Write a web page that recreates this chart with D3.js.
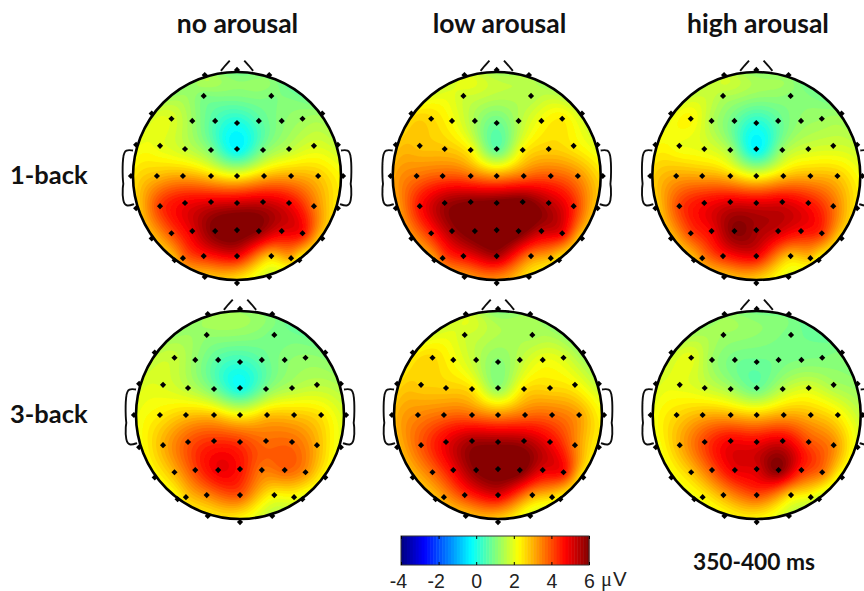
<!DOCTYPE html>
<meta charset="utf-8">
<style>
body { margin: 0; background: #fff; }
svg { display: block; }
.title { font-family: Lato, sans-serif; font-weight: bold; font-size: 26.5px; fill: #111; }
.title.row { font-size: 25.5px; }
.cbar text { font-family: "Liberation Sans", sans-serif; font-size: 19.5px; fill: #222; }
.cbar path.domain { display: none; }
</style>
<svg width="864" height="591">
  <defs><filter id="soft"><feGaussianBlur stdDeviation="0.45"></feGaussianBlur></filter></defs>
</svg>
<script src="https://d3js.org/d3.v7.min.js"></script>
<script>

var columns = ["no arousal", "low arousal", "high arousal"]
var rows = ["1-back", "3-back"]
var cbarTicks = [-4, -2, 0, 2, 4, 6]

// channel locations, head units (1 = head radius), inner rows then rim clockwise from top left
var chanX = [-.32, .33,
  -.63, -.43, -.21, 0, .21, .43, .63,
  -.74, -.5, -.25, 0, .25, .5, .74,
  -.77, -.52, -.25, 0, .26, .52, .78,
  -.74, -.5, -.25, 0, .25, .5, .74,
  -.63, -.43, -.21, 0, .21, .43, .63,
  -.52, -.32, 0, .33, .52,
  -.31, 0, .31, .82, .97, 1.02, .97, .82, .6, .31, 0, -.31, -.6, -.82, -.97, -1.02, -.97, -.82]
var chanY = [.77, .77,
  .55, .53, .53, .51, .53, .53, .55,
  .29, .26, .25, .26, .25, .26, .29,
  0, 0, 0, 0, 0, 0, 0,
  -.29, -.26, -.25, -.26, -.25, -.26, -.29,
  -.55, -.53, -.53, -.52, -.53, -.53, -.55,
  -.79, -.77, -.77, -.77, -.79,
  .97, 1.02, .97, .6, .3, 0, -.31, -.6, -.81, -.97, -1.03, -.97, -.81, -.6, -.31, 0, .3, .6]

// microvolts per channel
var noArousal1 = [1.0, 1.0,
  1.9, 1.3, 0.5, 0.0, 0.6, 1.1, 1.3,
  2.0, 1.7, 1.0, -0.3, 1.0, 1.6, 1.9,
  2.9, 3.1, 2.7, 2.3, 2.9, 3.1, 2.8,
  4.2, 4.8, 5.0, 5.2, 5.2, 4.8, 3.6,
  4.0, 5.0, 6.0, 6.2, 5.8, 5.0, 4.6,
  3.6, 4.4, 4.8, 2.8, 3.0,
  1.4, 0.7, 1.0, 1.2, 1.6, 2.2, 2.4, 2.6, 2.2, 1.8, 2.4, 2.8, 2.8, 2.8, 2.6, 2.4, 2.0, 1.7]
var lowArousal1 = [1.8, 1.5,
  2.6, 2.2, 1.4, 0.8, 1.5, 2.2, 2.4,
  2.8, 2.8, 2.3, 0.7, 2.3, 2.7, 2.4,
  3.6, 3.9, 3.7, 3.3, 3.7, 3.9, 3.4,
  4.6, 5.6, 5.9, 6.1, 6.1, 5.4, 4.4,
  4.4, 5.6, 6.2, 6.4, 6.2, 5.3, 4.8,
  3.9, 4.7, 5.5, 3.5, 2.9,
  1.9, 1.2, 1.4, 1.7, 1.9, 2.5, 2.7, 2.6, 2.4, 2.5, 3.2, 3.2, 3.1, 3.2, 3.0, 3.0, 2.7, 2.4]
var highArousal1 = [1.5, 1.1,
  2.3, 1.5, 0.8, 0.1, 0.7, 1.2, 1.3,
  2.1, 2.0, 1.4, -0.3, 1.3, 1.8, 1.8,
  3.1, 3.1, 2.8, 2.2, 2.8, 3.0, 2.8,
  4.1, 4.7, 5.0, 5.0, 5.0, 4.6, 3.7,
  4.1, 4.8, 5.9, 5.6, 5.2, 4.7, 4.2,
  3.4, 4.4, 4.8, 2.8, 2.8,
  1.7, 1.0, 1.1, 1.2, 1.6, 2.1, 2.4, 2.5, 2.2, 2.0, 2.6, 2.8, 2.8, 2.8, 2.6, 2.6, 2.2, 1.9]
var noArousal3 = [1.2, 0.9,
  1.7, 1.2, 0.6, 0.3, 0.7, 1.1, 1.2,
  1.9, 1.6, 0.9, -0.1, 1.0, 1.5, 1.6,
  2.4, 2.8, 2.8, 2.3, 2.8, 2.8, 2.5,
  3.0, 3.9, 4.3, 4.2, 3.7, 3.7, 3.0,
  3.0, 4.1, 4.9, 4.6, 3.6, 3.8, 3.3,
  2.7, 3.4, 3.9, 2.3, 2.2,
  1.3, 1.2, 1.0, 1.0, 1.4, 1.8, 2.0, 2.2, 1.9, 1.6, 2.2, 2.4, 2.2, 2.2, 2.1, 2.0, 1.8, 1.5]
var lowArousal3 = [1.8, 1.4,
  2.6, 2.2, 1.6, 1.1, 1.6, 2.1, 1.9,
  2.7, 2.7, 2.5, 1.2, 2.5, 2.6, 2.3,
  3.4, 3.7, 3.7, 3.4, 3.7, 3.7, 3.2,
  3.9, 4.9, 5.6, 5.7, 5.5, 4.8, 3.5,
  3.7, 4.8, 5.9, 6.2, 6.1, 5.0, 4.6,
  3.2, 4.2, 5.0, 3.2, 2.6,
  1.8, 0.9, 1.3, 1.2, 1.6, 2.2, 2.3, 2.3, 2.2, 1.9, 2.6, 2.8, 2.8, 2.8, 2.8, 2.8, 2.5, 2.2]
var highArousal3 = [1.3, 0.9,
  2.0, 1.3, 0.9, 0.8, 0.9, 1.0, 1.0,
  2.0, 1.8, 1.4, 0.8, 1.6, 1.9, 1.4,
  2.6, 3.0, 3.0, 2.8, 3.1, 2.9, 2.4,
  3.0, 4.1, 4.8, 4.8, 5.0, 4.0, 3.4,
  2.8, 3.9, 4.9, 5.1, 5.9, 4.4, 3.6,
  2.3, 3.1, 4.0, 2.6, 2.1,
  1.2, 0.8, 0.9, 1.0, 1.2, 1.6, 2.0, 2.0, 1.7, 1.7, 2.2, 2.2, 2.1, 2.1, 2.0, 2.0, 1.8, 1.6]

var maps = [noArousal1, lowArousal1, highArousal1, noArousal3, lowArousal3, highArousal3]

// jet colormap on the -4..6 range
var jetStops = [-4, -2.75, -0.25, 2.25, 4.75, 6]
var jetColors = ["#00007f", "#0000ff", "#00ffff", "#ffff00", "#ff0000", "#7f0000"]
var color = d3.scaleLinear().domain(jetStops).range(jetColors).clamp(true)

var levels = d3.range(64).map(function(i) { return -4 + i * 10 / 64 })

var svg = d3.select("svg")
var headR = 104
var centers = [[237, 176], [496.7, 176], [756.3, 176], [240, 415], [498, 415], [756.7, 415]]

// biharmonic spline, same as griddata v4 in the original topoplot
function green(d) { return d === 0 ? 0 : d * d * (Math.log(d) - 1) }

function solve(A, b) {
  var n = b.length
  A = A.map(function(r, i) { return r.concat(b[i]) })
  for (var c = 0; c < n; c++) {
    var p = c
    for (var r = c + 1; r < n; r++) if (Math.abs(A[r][c]) > Math.abs(A[p][c])) p = r
    var t = A[c]; A[c] = A[p]; A[p] = t
    for (r = c + 1; r < n; r++) {
      var f = A[r][c] / A[c][c]
      for (var k = c; k <= n; k++) A[r][k] -= f * A[c][k]
    }
  }
  var w = new Array(n)
  for (var i = n - 1; i >= 0; i--) {
    var s = A[i][n]
    for (var j = i + 1; j < n; j++) s -= A[i][j] * w[j]
    w[i] = s / A[i][i]
  }
  return w
}

var G = chanX.map(function(xi, i) {
  return chanX.map(function(xj, j) { return green(Math.hypot(xi - xj, chanY[i] - chanY[j])) })
})

var n = 150, span = 1.1
var gridScale = d3.scaleLinear().domain([0.5, n - 0.5]).range([-span, span])

function surface(values) {
  var w = solve(G, values), grid = new Array(n * n)
  for (var gy = 0; gy < n; gy++) {
    for (var gx = 0; gx < n; gx++) {
      var hx = gridScale(gx + 0.5), hy = -gridScale(gy + 0.5), s = 0
      for (var i = 0; i < w.length; i++) s += w[i] * green(Math.hypot(hx - chanX[i], hy - chanY[i]))
      grid[gy * n + gx] = s
    }
  }
  return grid
}

var contours = d3.contours().size([n, n]).thresholds(levels)
var earPts = [[-1.0, .245], [-1.0, .245], [-1.07, .255], [-1.1, .2], [-1.1, -.05], [-1.09, -.075], [-1.1, -.1], [-1.1, -.25], [-1.06, -.295], [-.99, -.27], [-.99, -.27]]
var nosePts = [[-.155, 1.01], [-.115, 1.06], [-.07, 1.11]]

maps.forEach(function(values, m) {
  var c = centers[m]
  var x = d3.scaleLinear().domain([-1, 1]).range([c[0] - headR, c[0] + headR])
  var y = d3.scaleLinear().domain([-1, 1]).range([c[1] + headR, c[1] - headR])
  var g = svg.append("g").attr("filter", "url(#soft)")

  svg.append("clipPath").attr("id", "clip" + m)
    .append("circle").attr("cx", x(0)).attr("cy", y(0)).attr("r", headR)

  var path = d3.geoPath(d3.geoTransform({
    point: function(gx, gy) { this.stream.point(x(gridScale(gx)), y(-gridScale(gy))) }
  }))

  g.append("g").attr("clip-path", "url(#clip" + m + ")")
    .selectAll("path")
    .data(contours(surface(values)))
    .join("path")
    .attr("d", path)
    .attr("fill", function(d) { return color(d.value + 5 / 64) })

  g.append("circle").attr("cx", x(0)).attr("cy", y(0)).attr("r", headR)
    .attr("fill", "none").attr("stroke", "#000").attr("stroke-width", 2.6)

  var line = d3.line().x(function(d) { return x(d[0]) }).y(function(d) { return y(d[1]) })
  var smooth = d3.line().x(function(d) { return x(d[0]) }).y(function(d) { return y(d[1]) }).curve(d3.curveBasis)
  ;[1, -1].forEach(function(side) {
    var flip = function(p) { return [p[0] * side * -1, p[1]] }
    g.append("path").attr("d", smooth(earPts.map(flip)))
      .attr("fill", "none").attr("stroke", "#111").attr("stroke-width", 1.9)
    g.append("path").attr("d", line(nosePts.map(flip)))
      .attr("fill", "none").attr("stroke", "#111").attr("stroke-width", 1.9)
  })

  g.selectAll("path.chan")
    .data(chanX)
    .join("path")
    .attr("class", "chan")
    .attr("d", d3.symbol().type(d3.symbolDiamond2).size(24))
    .attr("transform", function(d, i) { return "translate(" + x(d) + "," + y(chanY[i]) + ")" })
    .attr("fill", "#000")
})

// titles
var titleX = [237.5, 499.5, 758]
svg.selectAll("text.col")
  .data(columns)
  .join("text")
  .attr("class", "title col")
  .attr("x", function(d, i) { return titleX[i] })
  .attr("y", 33)
  .attr("text-anchor", "middle")
  .text(function(d) { return d })

var rowY = [184, 423]
svg.selectAll("text.row")
  .data(rows)
  .join("text")
  .attr("class", "title row")
  .attr("x", 10)
  .attr("y", function(d, i) { return rowY[i] })
  .text(function(d) { return d })

svg.append("text").attr("class", "title")
  .attr("x", 693).attr("y", 570)
  .style("font-size", "22.7px")
  .text("350-400 ms")

// colour bar
var cb = svg.append("g").attr("class", "cbar")
var cx = d3.scaleLinear().domain([-4, 6]).range([401, 589])
var cTop = 536, cBottom = 565

cb.selectAll("rect")
  .data(levels)
  .join("rect")
  .attr("x", function(d) { return cx(d) })
  .attr("y", cTop)
  .attr("width", 188 / 64 + 0.5)
  .attr("height", cBottom - cTop)
  .attr("fill", function(d) { return color(d + 5 / 64) })

cb.append("rect").attr("x", 401).attr("y", cTop).attr("width", 188).attr("height", cBottom - cTop)
  .attr("fill", "none").attr("stroke", "#333").attr("stroke-width", 1)

var axisB = cb.append("g").attr("transform", "translate(0," + cBottom + ")")
  .call(d3.axisBottom(cx).tickValues(cbarTicks).tickSize(-3).tickPadding(9).tickFormat(function(d) { return d < 0 ? "-" + (-d) : d }))
axisB.selectAll("text").attr("dx", function(d) { return d < 0 ? -3 : 0 })

cb.append("g").attr("transform", "translate(0," + cTop + ")")
  .call(d3.axisTop(cx).tickValues(cbarTicks).tickSize(-3).tickFormat(""))

cb.append("text").attr("x", 601).attr("y", 586)
  .style("font-family", "'Liberation Serif', serif").style("font-size", "20.5px").text("\u03bc")
cb.append("text").attr("x", 613).attr("y", 586).style("font-size", "20.5px").text("V")

</script>
</html>
